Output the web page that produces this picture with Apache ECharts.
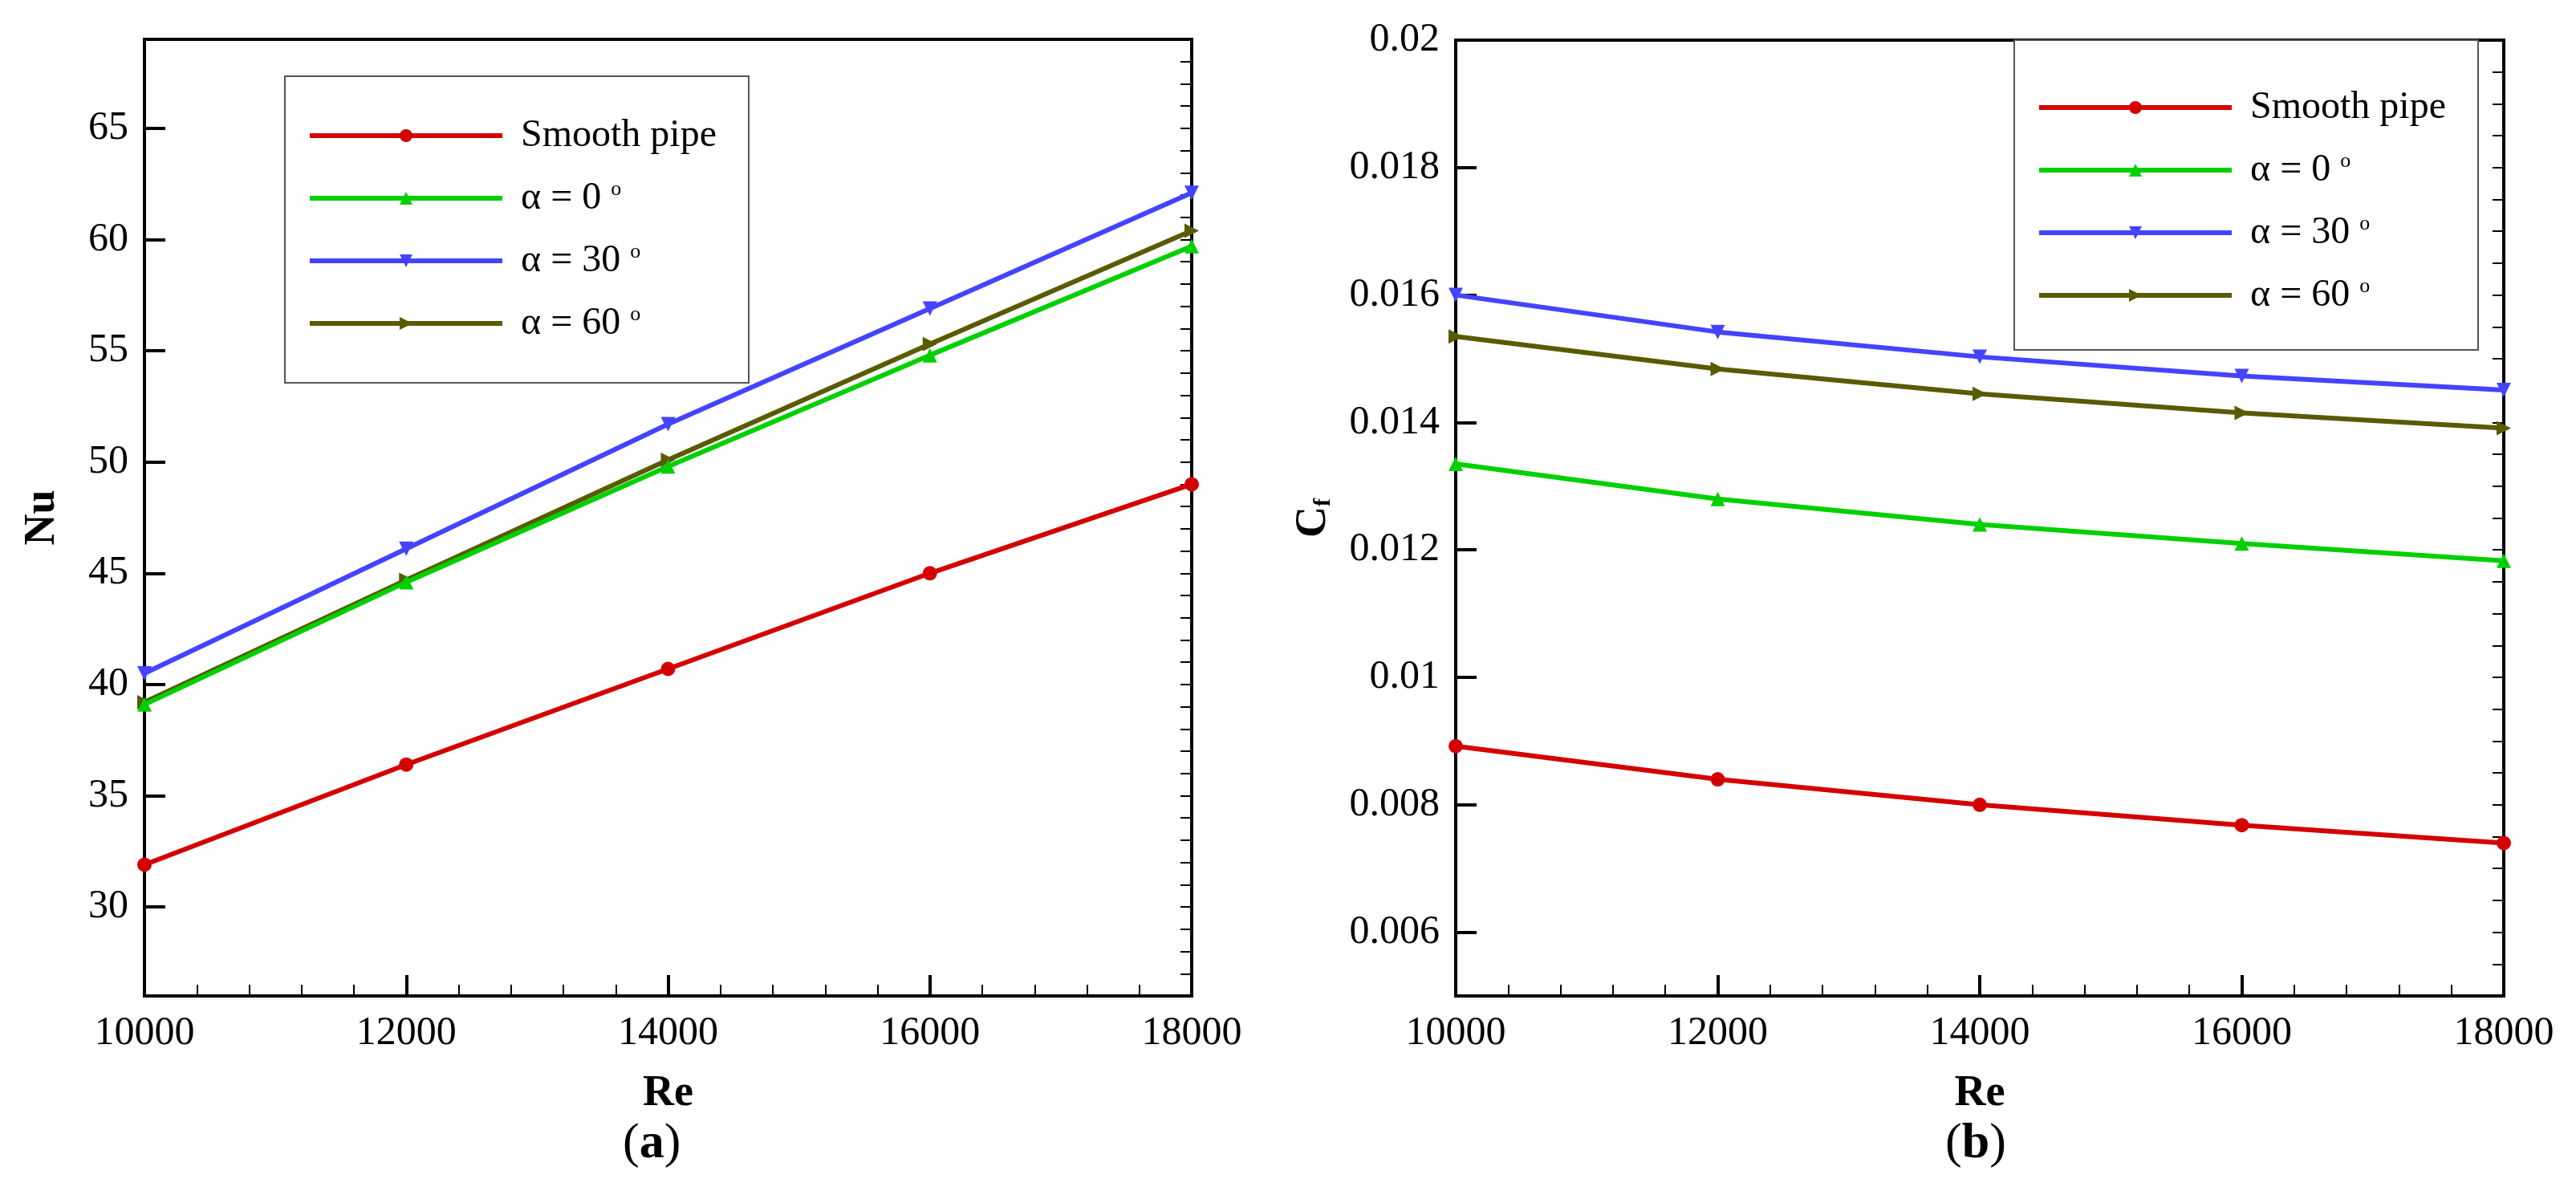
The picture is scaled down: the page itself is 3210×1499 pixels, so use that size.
<!DOCTYPE html>
<html>
<head>
<meta charset="utf-8">
<script src="https://cdn.jsdelivr.net/npm/echarts@6/dist/echarts.min.js"></script>
<style>html,body{margin:0;background:#fff}#main{width:3210px;height:1499px}</style>
</head>
<body>
<div id="main"></div>
<script>
var reValues = [10000, 12000, 14000, 16000, 18000];
var seriesNames = ['Smooth pipe', 'α = 0', 'α = 30', 'α = 60'];
var nuSmooth = [31.9, 36.4, 40.7, 45.0, 49.0];
var nuA0 = [39.1, 44.6, 49.8, 54.8, 59.7];
var nuA30 = [40.5, 46.1, 51.7, 56.9, 62.1];
var nuA60 = [39.2, 44.7, 50.1, 55.3, 60.4];
var cfSmooth = [0.00892, 0.0084, 0.0080, 0.00768, 0.0074];
var cfA0 = [0.01335, 0.0128, 0.0124, 0.0121, 0.01183];
var cfA30 = [0.0160, 0.01542, 0.01503, 0.01473, 0.01451];
var cfA60 = [0.01535, 0.01484, 0.01445, 0.01415, 0.01391];
var nuTicks = [30, 35, 40, 45, 50, 55, 60, 65];
var cfTicks = [0.006, 0.008, 0.01, 0.012, 0.014, 0.016, 0.018, 0.02];

var colors = ['#d40000', '#00d000', '#4444ff', '#5a5a00'];
var symbols = ['circle', 'triangle', 'path://M0,0 L10,0 L5,10 Z', 'path://M0,0 L10,5 L0,10 Z'];
var font = '"Liberation Serif", "Times New Roman", serif';

function pairs(vals) {
    var out = [];
    for (var i = 0; i < vals.length; i++) out.push([reValues[i], vals[i]]);
    return out;
}

function makeSeries(idx, list) {
    var arr = [];
    for (var i = 0; i < list.length; i++) {
        arr.push({
            name: seriesNames[i],
            type: 'line',
            xAxisIndex: idx,
            yAxisIndex: idx,
            data: pairs(list[i]),
            symbol: symbols[i],
            symbolSize: 18,
            showAllSymbol: true,
            color: colors[i],
            lineStyle: {width: 6, color: colors[i]},
            itemStyle: {color: colors[i]},
            z: 10 - i
        });
    }
    return arr;
}

function xAxis(idx) {
    return {
        type: 'value', gridIndex: idx, min: 10000, max: 18000, interval: 2000,
        name: 'Re', nameLocation: 'middle', nameGap: 95,
        nameTextStyle: {fontFamily: font, fontSize: 54, fontWeight: 'bold', color: '#000'},
        axisLine: {lineStyle: {color: '#000', width: 4}},
        axisTick: {inside: true, length: 26, lineStyle: {color: '#000', width: 4}},
        minorTick: {show: true, splitNumber: 5, length: 14, lineStyle: {color: '#000', width: 2}},
        axisLabel: {fontFamily: font, fontSize: 50, color: '#000', margin: 22,
            formatter: function (v) { return String(v); }},
        splitLine: {show: false}
    };
}

// extra axis that only draws the small ticks
function minorAxis(idx, min, max, step) {
    return {
        type: 'value', gridIndex: idx, min: min, max: max, interval: step,
        axisLine: {show: false},
        axisTick: {inside: true, length: 14, lineStyle: {color: '#000', width: 2}},
        axisLabel: {show: false},
        splitLine: {show: false}
    };
}

var legendCommon = {
    orient: 'vertical',
    backgroundColor: '#fff',
    borderColor: '#555',
    borderWidth: 2,
    borderRadius: 0,
    itemWidth: 240,
    itemHeight: 20,
    itemGap: 30,
    padding: [50, 40, 50, 28],
    data: seriesNames,
    lineStyle: {width: 6},
    formatter: function (n) { return n === 'Smooth pipe' ? n : n + ' {s|o}'; },
    textStyle: {fontFamily: font, fontSize: 48, color: '#000', padding: [0, 0, 0, 18],
        rich: {s: {fontFamily: font, fontSize: 26, verticalAlign: 'top', padding: [0, 0, 20, 0], color: '#000'}}}
};

var myChart = echarts.init(document.getElementById('main'));
var option = {
    backgroundColor: '#fff',
    animation: false,
    grid: [
        {left: 180, top: 49, width: 1305, height: 1192, show: true, borderColor: '#000', borderWidth: 4},
        {left: 1814, top: 50, width: 1306, height: 1191, show: true, borderColor: '#000', borderWidth: 4}
    ],
    legend: [
        Object.assign({}, legendCommon, {left: 355, top: 95}),
        Object.assign({}, legendCommon, {left: 2510, top: 50, padding: [60, 40, 44, 28]})
    ],
    xAxis: [xAxis(0), xAxis(1)],
    yAxis: [
        {
            type: 'value', gridIndex: 0, min: 26, max: 69,
            name: 'Nu', nameLocation: 'middle', nameGap: 100, nameRotate: 90,
            nameTextStyle: {fontFamily: font, fontSize: 54, fontWeight: 'bold', color: '#000'},
            axisLine: {lineStyle: {color: '#000', width: 4}},
            axisTick: {inside: true, length: 26, customValues: nuTicks, lineStyle: {color: '#000', width: 4}},
            axisLabel: {fontFamily: font, fontSize: 50, color: '#000', margin: 20, customValues: nuTicks},
            splitLine: {show: false}
        },
        {
            type: 'value', gridIndex: 1, min: 0.005, max: 0.02,
            name: '{c|C}{f|f}', nameLocation: 'middle', nameGap: 150, nameRotate: 90,
            nameTextStyle: {rich: {
                c: {fontFamily: font, fontSize: 54, fontWeight: 'bold', color: '#000'},
                f: {fontFamily: font, fontSize: 30, fontWeight: 'bold', color: '#000', verticalAlign: 'bottom', padding: [20, 0, 0, 0]}
            }},
            axisLine: {lineStyle: {color: '#000', width: 4}},
            axisTick: {inside: true, length: 26, customValues: cfTicks, lineStyle: {color: '#000', width: 4}},
            axisLabel: {fontFamily: font, fontSize: 50, color: '#000', margin: 20, customValues: cfTicks,
                formatter: function (v) { return String(+v.toFixed(3)); }},
            splitLine: {show: false}
        },
        minorAxis(0, 26, 69, 1),
        minorAxis(1, 0.005, 0.02, 0.0005)
    ],
    graphic: [
        {type: 'text', left: 776, top: 1395, style: {text: '({b|a})', fontFamily: font, fontSize: 62, fill: '#000',
            rich: {b: {fontFamily: font, fontSize: 62, fontWeight: 'bold', fill: '#000'}}}},
        {type: 'text', left: 2424, top: 1395, style: {text: '({b|b})', fontFamily: font, fontSize: 62, fill: '#000',
            rich: {b: {fontFamily: font, fontSize: 62, fontWeight: 'bold', fill: '#000'}}}}
    ],
    series: makeSeries(0, [nuSmooth, nuA0, nuA30, nuA60]).concat(makeSeries(1, [cfSmooth, cfA0, cfA30, cfA60]))
};
myChart.setOption(option);
</script>
</body>
</html>
